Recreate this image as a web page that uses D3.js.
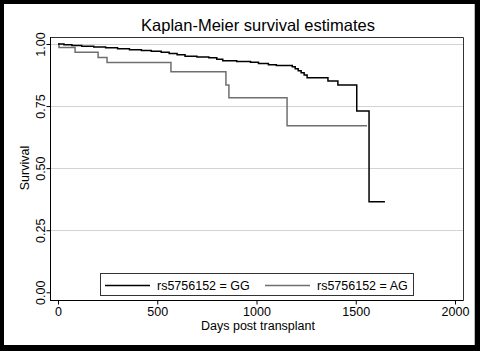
<!DOCTYPE html>
<html>
<head>
<meta charset="utf-8">
<title>Kaplan-Meier survival estimates</title>
<style>
body { margin: 0; background: #000; }
text { font-family: "Liberation Sans", Arial, sans-serif; fill: #000; }
.grid line { stroke: #d3d3d3; stroke-width: 1; }
.axis path, .axis line { stroke: #000; }
</style>
</head>
<body>
<svg id="chart"></svg>
<script src="https://cdn.jsdelivr.net/npm/d3@7"></script>
<script>
// group GG (black)
var ggDays = [0, 30, 70, 120, 180, 240, 300, 360, 420, 470, 520, 560, 600, 640, 700, 760, 800, 830, 900, 970, 1010, 1060, 1100, 1180, 1195, 1210, 1225, 1240, 1255, 1360, 1410, 1505, 1567, 1647];
var ggSurv = [1.0, 0.997, 0.994, 0.991, 0.988, 0.985, 0.981, 0.977, 0.974, 0.971, 0.967, 0.962, 0.957, 0.951, 0.948, 0.945, 0.939, 0.933, 0.930, 0.926, 0.921, 0.916, 0.913, 0.908, 0.900, 0.892, 0.884, 0.875, 0.864, 0.851, 0.835, 0.730, 0.365, 0.365];
// group AG (gray)
var agDays = [0, 5, 86, 202, 247, 569, 846, 861, 1154, 1557];
var agSurv = [1.0, 0.986, 0.967, 0.946, 0.925, 0.888, 0.835, 0.784, 0.671, 0.671];

var groups = ['rs5756152 = GG', 'rs5756152 = AG'];
var colors = ['#000000', '#6f6f6f'];
var xTicks = [0, 500, 1000, 1500, 2000];
var yTicks = [0, 0.25, 0.5, 0.75, 1];

var W = 480, H = 351;
var svg = d3.select('#chart').attr('width', W).attr('height', H);

// frame
svg.append('rect').attr('width', W).attr('height', H).attr('fill', '#000');
svg.append('rect').attr('x', 4).attr('y', 4).attr('width', 471).attr('height', 341).attr('fill', '#fff');
svg.append('line').attr('x1', 474.5).attr('x2', 474.5).attr('y1', 4).attr('y2', 345).attr('stroke', '#bbb');

var x = d3.scaleLinear().domain([0, 2000]).range([58, 455]);
var y = d3.scaleLinear().domain([0, 1]).range([292.3, 44]);
var box = { left: 50, right: 463, top: 37, bottom: 300.5 };

// gridlines
svg.append('g').attr('class', 'grid')
	.selectAll('line')
	.data(yTicks.filter(function (d) { return d > 0; }))
	.enter().append('line')
	.attr('x1', box.left).attr('x2', box.right)
	.attr('y1', function (d) { return Math.round(y(d)) + 0.5; })
	.attr('y2', function (d) { return Math.round(y(d)) + 0.5; });

// plot box top/right
svg.append('path')
	.attr('d', 'M' + box.left + ',' + (box.top + 0.5) + 'H' + (box.right + 0.5) + 'V' + box.bottom)
	.attr('fill', 'none').attr('stroke', '#333').attr('stroke-width', 1);

// axes
var yAxis = d3.axisLeft(y).tickValues(yTicks).tickFormat(d3.format('.2f')).tickSize(4).tickSizeOuter(0);
var gy = svg.append('g').attr('class', 'axis')
	.attr('transform', 'translate(' + (box.left + 0.5) + ',0)')
	.call(yAxis);
gy.select('.domain').attr('d', 'M0,' + box.top + 'V' + box.bottom);
gy.selectAll('.tick text')
	.attr('x', 0).attr('y', 0)
	.attr('transform', 'translate(-6,0) rotate(-90)')
	.attr('text-anchor', 'middle')
	.attr('dy', 0)
	.style('font-size', '12.5px');

var xAxis = d3.axisBottom(x).tickValues(xTicks).tickFormat(d3.format('d')).tickSize(4).tickSizeOuter(0);
var gx = svg.append('g').attr('class', 'axis')
	.attr('transform', 'translate(0,' + box.bottom + ')')
	.call(xAxis);
gx.select('.domain').attr('d', 'M' + box.left + ',0H' + (box.right + 0.5));
gx.selectAll('.tick text').attr('y', 7).attr('dy', '0.71em').style('font-size', '12.5px');

// survival curves
var line = d3.line()
	.x(function (d) { return x(d[0]); })
	.y(function (d) { return y(d[1]); })
	.curve(d3.curveStepAfter);

var series = [d3.zip(ggDays, ggSurv), d3.zip(agDays, agSurv)];
// draw AG first so GG sits on top
[1, 0].forEach(function (i) {
	svg.append('path')
		.datum(series[i])
		.attr('d', line)
		.attr('fill', 'none')
		.attr('stroke', colors[i])
		.attr('stroke-width', 1.5);
});

// titles
svg.append('text').attr('x', 258).attr('y', 31)
	.attr('text-anchor', 'middle').style('font-size', '16.5px')
	.text('Kaplan-Meier survival estimates');
svg.append('text').attr('x', 258).attr('y', 329.5)
	.attr('text-anchor', 'middle').style('font-size', '12.5px')
	.text('Days post transplant');
svg.append('text')
	.attr('transform', 'translate(29,168) rotate(-90)')
	.attr('text-anchor', 'middle').style('font-size', '12.5px')
	.text('Survival');

// legend
var lg = svg.append('g');
lg.append('rect').attr('x', 100.5).attr('y', 273.5).attr('width', 313).attr('height', 22)
	.attr('fill', '#fff').attr('stroke', '#333').attr('stroke-width', 1);
var legX = [105, 265];
groups.forEach(function (g, i) {
	lg.append('line')
		.attr('x1', legX[i]).attr('x2', legX[i] + 45)
		.attr('y1', 285.5).attr('y2', 285.5)
		.attr('stroke', colors[i]).attr('stroke-width', 1.5);
	lg.append('text')
		.attr('x', legX[i] + 52).attr('y', 290)
		.style('font-size', '12.5px')
		.text(g);
});
</script>
</body>
</html>
